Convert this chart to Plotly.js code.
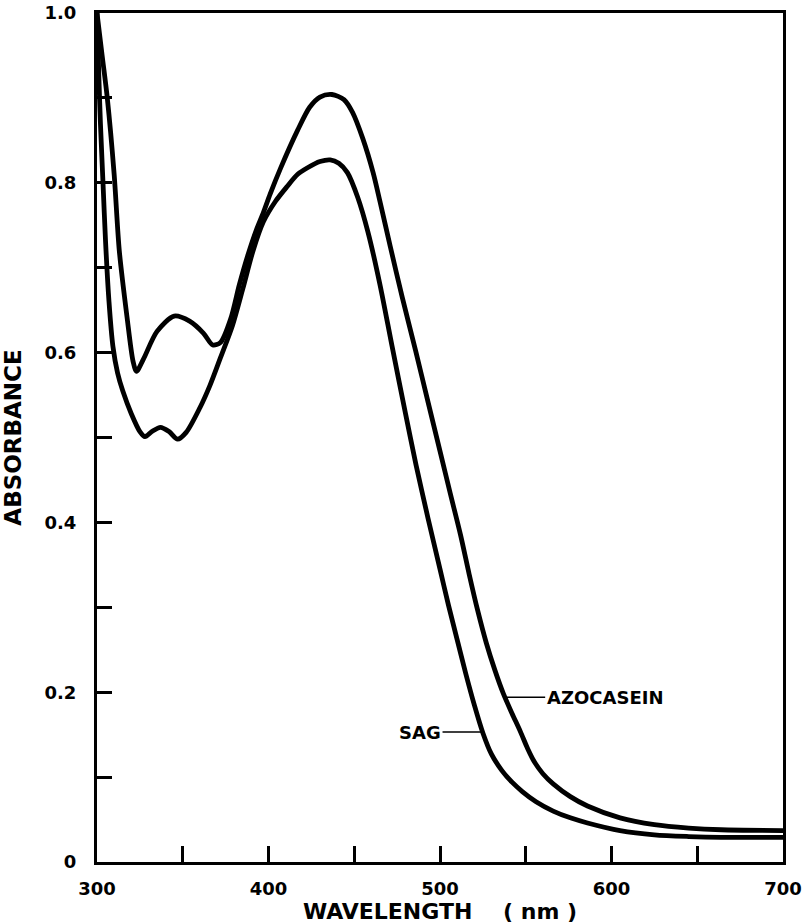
<!DOCTYPE html>
<html>
<head>
<meta charset="utf-8">
<script src="https://cdn.plot.ly/plotly-3.0.1.min.js"></script>
<style>html,body{margin:0;padding:0;background:#fff;}#chart{width:804px;height:924px;}</style>
</head>
<body>
<div id="chart"></div>
<script>
// Wavelength (nm) and absorbance
const azoWavelength = [300, 303, 306, 310, 313, 317.5, 321, 323, 327, 335, 345, 354, 362, 367.5, 372, 378, 383, 388, 393, 397, 401, 407, 417, 424, 430, 437, 444, 449, 455, 461, 465, 471, 478, 485.7, 493, 500, 506, 512, 517, 522, 527, 532, 537, 542, 547, 551, 555, 560, 566, 576, 586, 605, 625, 645, 664, 700];
const azoAbsorbance = [1.0, 0.95, 0.9, 0.81, 0.72, 0.642, 0.59, 0.578, 0.592, 0.625, 0.643, 0.637, 0.623, 0.609, 0.612, 0.64, 0.68, 0.715, 0.745, 0.765, 0.787, 0.817, 0.862, 0.889, 0.901, 0.904, 0.898, 0.883, 0.852, 0.812, 0.778, 0.725, 0.665, 0.603, 0.542, 0.484, 0.434, 0.385, 0.339, 0.296, 0.258, 0.226, 0.198, 0.175, 0.153, 0.134, 0.118, 0.104, 0.092, 0.077, 0.066, 0.052, 0.044, 0.040, 0.038, 0.037];

const sagWavelength = [300, 301, 302, 303.5, 305, 307, 309.3, 312, 315, 320, 325, 328, 332, 337, 342, 347, 352, 360, 366, 372, 379, 385, 391, 397, 404, 411, 417, 423, 430, 436, 441, 446, 452, 458, 465, 472, 480, 486, 493, 500, 505, 510, 515, 520, 525, 530, 536, 542, 548, 556, 566, 576, 586, 605, 625, 645, 664, 700];
const sagAbsorbance = [1.0, 0.93, 0.87, 0.80, 0.73, 0.66, 0.607, 0.576, 0.555, 0.528, 0.507, 0.501, 0.507, 0.512, 0.507, 0.498, 0.506, 0.535, 0.562, 0.594, 0.632, 0.675, 0.72, 0.754, 0.778, 0.796, 0.81, 0.818, 0.825, 0.827, 0.823, 0.812, 0.783, 0.742, 0.68, 0.608, 0.527, 0.468, 0.405, 0.345, 0.302, 0.262, 0.222, 0.185, 0.152, 0.127, 0.108, 0.094, 0.083, 0.071, 0.060, 0.052, 0.046, 0.037, 0.032, 0.030, 0.029, 0.029];

const xTickVals = [300, 350, 400, 450, 500, 550, 600, 650, 700];
const xTickText = ['300', '', '400', '', '500', '', '600', '', '700'];
const yTickVals = [0, 0.1, 0.2, 0.3, 0.4, 0.5, 0.6, 0.7, 0.8, 0.9, 1.0];
const yTickText = ['0', '', '0.2', '', '0.4', '', '0.6', '', '0.8', '', '1.0'];

const seriesNames = ['AZOCASEIN', 'SAG'];

const lineStyle = {color: '#000', width: 4.8, shape: 'spline', smoothing: 0.8};
const traces = [
  {x: azoWavelength, y: azoAbsorbance, name: seriesNames[0], mode: 'lines', line: lineStyle, hoverinfo: 'x+y+name'},
  {x: sagWavelength, y: sagAbsorbance, name: seriesNames[1], mode: 'lines', line: lineStyle, hoverinfo: 'x+y+name'}
];

const tickFont = {family: 'DejaVu Sans', size: 18, color: '#000', weight: 'bold'};
const layout = {
  width: 804, height: 924,
  margin: {l: 97, r: 21, t: 13, b: 62},
  paper_bgcolor: '#fff', plot_bgcolor: '#fff',
  showlegend: false,
  xaxis: {
    range: [300, 700], tickmode: 'array', tickvals: xTickVals, ticktext: xTickText,
    ticks: 'inside', ticklen: 16, tickwidth: 3, tickcolor: '#000',
    showline: true, linewidth: 3, linecolor: '#000', mirror: true,
    showgrid: false, zeroline: false, tickfont: tickFont, ticklabelstandoff: 8,
    title: {text: 'WAVELENGTH\u00A0\u00A0\u00A0\u00A0(\u00A0nm\u00A0)', font: {family: 'DejaVu Sans', size: 22, color: '#000', weight: 'bold'}, standoff: 11}
  },
  yaxis: {
    range: [0, 1.0], tickmode: 'array', tickvals: yTickVals, ticktext: yTickText,
    ticks: 'inside', ticklen: 15, tickwidth: 3, tickcolor: '#000',
    showline: true, linewidth: 3, linecolor: '#000', mirror: true,
    showgrid: false, zeroline: false, tickfont: tickFont, ticklabelstandoff: 14,
    title: {text: 'ABSORBANCE', font: {family: 'DejaVu Sans', size: 23, color: '#000', weight: 'bold'}, standoff: 20}
  },
  annotations: [
    {x: 538, y: 0.194, xref: 'x', yref: 'y', text: seriesNames[0], showarrow: true, arrowhead: 0, arrowwidth: 1.5, arrowcolor: '#000',
     ax: 40, ay: 0, xanchor: 'left', yanchor: 'middle', standoff: 0,
     font: {family: 'DejaVu Sans', size: 18, color: '#000', weight: 'bold'}},
    {x: 524.8, y: 0.153, xref: 'x', yref: 'y', text: seriesNames[1], showarrow: true, arrowhead: 0, arrowwidth: 1.5, arrowcolor: '#000',
     ax: -40, ay: 0, xanchor: 'right', yanchor: 'middle', standoff: 0,
     font: {family: 'DejaVu Sans', size: 18, color: '#000', weight: 'bold'}}
  ]
};

Plotly.newPlot('chart', traces, layout, {staticPlot: true, displayModeBar: false});
</script>
</body>
</html>
